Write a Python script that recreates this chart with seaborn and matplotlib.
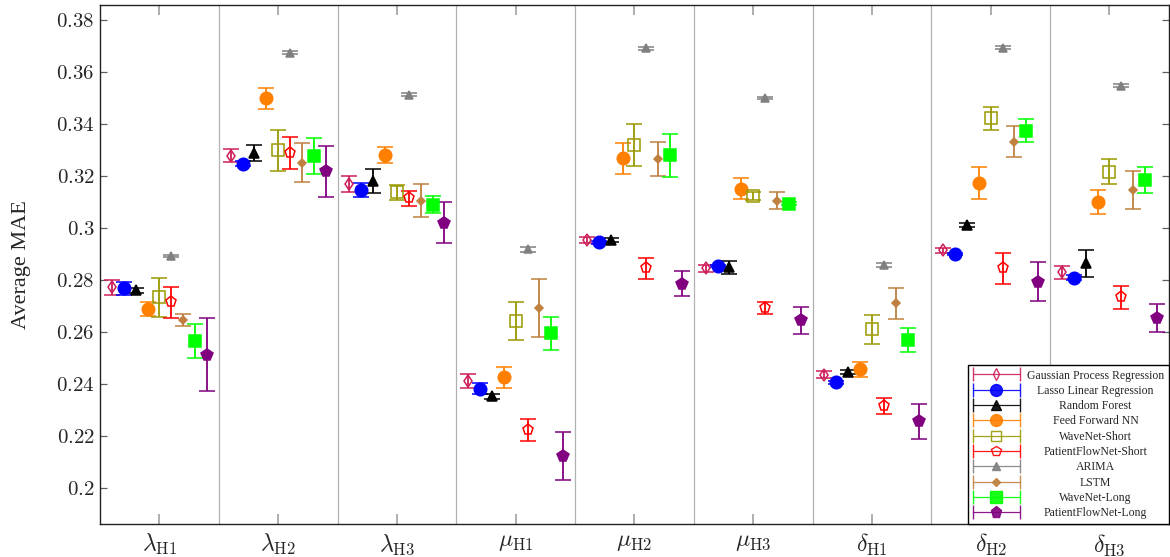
import numpy as np
import pandas as pd
import matplotlib
matplotlib.use("Agg")
import matplotlib.pyplot as plt
import seaborn as sns
from matplotlib.container import ErrorbarContainer
from matplotlib.legend_handler import HandlerErrorbar

"""Data: average MAE and error per target, one list per method"""

targets = [r"$\lambda_{\mathrm{H1}}$", r"$\lambda_{\mathrm{H2}}$", r"$\lambda_{\mathrm{H3}}$",
           r"$\mu_{\mathrm{H1}}$", r"$\mu_{\mathrm{H2}}$", r"$\mu_{\mathrm{H3}}$",
           r"$\delta_{\mathrm{H1}}$", r"$\delta_{\mathrm{H2}}$", r"$\delta_{\mathrm{H3}}$"]

methods = ["Gaussian Process Regression", "Lasso Linear Regression", "Random Forest",
           "Feed Forward NN", "WaveNet-Short", "PatientFlowNet-Short", "ARIMA", "LSTM",
           "WaveNet-Long", "PatientFlowNet-Long"]

gp_mae = [0.2772, 0.3278, 0.3169, 0.2413, 0.2954, 0.2845, 0.2437, 0.2915, 0.2830]
gp_err = [0.0030, 0.0025, 0.0032, 0.0027, 0.0010, 0.0012, 0.0013, 0.0010, 0.0025]
lasso_mae = [0.2768, 0.3247, 0.3148, 0.2383, 0.2945, 0.2854, 0.2407, 0.2901, 0.2809]
lasso_err = [0.0025, 0.0010, 0.0027, 0.0020, 0.0005, 0.0005, 0.0005, 0.0005, 0.0010]
rf_mae = [0.2761, 0.3288, 0.3180, 0.2353, 0.2954, 0.2849, 0.2448, 0.3013, 0.2865]
rf_err = [0.0010, 0.0030, 0.0046, 0.0010, 0.0008, 0.0025, 0.0008, 0.0008, 0.0052]
ffnn_mae = [0.2690, 0.3500, 0.3282, 0.2427, 0.3269, 0.3151, 0.2457, 0.3173, 0.3100]
ffnn_err = [0.0027, 0.0040, 0.0030, 0.0040, 0.0060, 0.0040, 0.0030, 0.0062, 0.0045]
wns_mae = [0.2735, 0.3299, 0.3137, 0.2643, 0.3319, 0.3125, 0.2611, 0.3423, 0.3217]
wns_err = [0.0075, 0.0080, 0.0030, 0.0072, 0.0080, 0.0015, 0.0055, 0.0044, 0.0048]
pfns_mae = [0.2714, 0.3289, 0.3114, 0.2223, 0.2845, 0.2694, 0.2317, 0.2845, 0.2734]
pfns_err = [0.0060, 0.0060, 0.0030, 0.0042, 0.0040, 0.0023, 0.0030, 0.0060, 0.0044]
arima_mae = [0.2893, 0.3675, 0.3513, 0.2919, 0.3691, 0.3501, 0.2857, 0.3694, 0.3548]
arima_err = [0.0005, 0.0005, 0.0005, 0.0010, 0.0005, 0.0005, 0.0008, 0.0005, 0.0005]
lstm_mae = [0.2645, 0.3252, 0.3106, 0.2693, 0.3266, 0.3106, 0.2711, 0.3332, 0.3148]
lstm_err = [0.0023, 0.0075, 0.0064, 0.0110, 0.0067, 0.0033, 0.0060, 0.0060, 0.0073]
wnl_mae = [0.2565, 0.3278, 0.3090, 0.2595, 0.3280, 0.3094, 0.2571, 0.3374, 0.3185]
wnl_err = [0.0065, 0.0070, 0.0032, 0.0063, 0.0083, 0.0005, 0.0046, 0.0044, 0.0050]
pfnl_mae = [0.2513, 0.3218, 0.3021, 0.2123, 0.2786, 0.2645, 0.2257, 0.2793, 0.2653]
pfnl_err = [0.0140, 0.0098, 0.0080, 0.0092, 0.0048, 0.0053, 0.0067, 0.0075, 0.0054]

all_mae = [gp_mae, lasso_mae, rf_mae, ffnn_mae, wns_mae, pfns_mae, arima_mae, lstm_mae, wnl_mae, pfnl_mae]
all_err = [gp_err, lasso_err, rf_err, ffnn_err, wns_err, pfns_err, arima_err, lstm_err, wnl_err, pfnl_err]

rows = []
for m, mae, err in zip(methods, all_mae, all_err):
    for t, v, e in zip(targets, mae, err):
        rows.append({"Method": m, "Target": t, "MAE": v, "Err": e})
data = pd.DataFrame(rows)

"""Styling"""

colors = ["#cc1f5a", "#0000ff", "#000000", "#ff8000", "#999900",
          "#ff0000", "#808080", "#bf8040", "#00ff00", "#800080"]
markers = ["d", "o", "^", "o", "s", "p", "^", "D", "s", "p"]
sizes = [6, 9, 7.5, 9, 8, 8, 6, 4.5, 9, 8.5]
filled = [False, True, True, True, False, False, True, True, True, True]
dodge = [-0.4, -0.3, -0.2, -0.1, 0.0, 0.1, 0.1, 0.2, 0.3, 0.4]

sns.set_theme(style="ticks")
plt.rcParams["font.family"] = ["Liberation Serif", "DejaVu Serif"]
plt.rcParams["mathtext.fontset"] = "cm"

fig, ax = plt.subplots(figsize=(11.7, 5.57), dpi=100)
fig.subplots_adjust(left=0.0855, right=0.999, top=0.991, bottom=0.0592)

xpos = {t: i for i, t in enumerate(targets)}
proxies = []
for k, m in enumerate(methods):
    sub = data[data["Method"] == m]
    x = sub["Target"].map(xpos) + dodge[k]
    face = colors[k] if filled[k] else "none"
    ax.errorbar(x, sub["MAE"], yerr=sub["Err"], fmt=markers[k], color=colors[k],
                mfc=face, mec=colors[k], ms=sizes[k], mew=1.1,
                elinewidth=1.3, capsize=6, capthick=1.3, zorder=3)
    p = ax.errorbar([np.nan], [np.nan], xerr=[1], fmt=markers[k], color=colors[k],
                    mfc=face, mec=colors[k], ms=sizes[k] * 0.95, mew=1.0,
                    elinewidth=0.9, capsize=5, capthick=0.9, alpha=0.9, label=m)
    proxies.append(p)

for b in np.arange(0.5, len(targets) - 0.5, 1):
    ax.axvline(b, color="#b0b0b0", lw=0.9, zorder=1)

ax.set_xlim(-0.5, len(targets) - 0.5)
ax.set_ylim(0.1862, 0.3858)
ax.set_xticks(range(len(targets)))
ax.set_xticklabels(targets, fontsize=17)
yt = np.arange(0.2, 0.381, 0.02)
ax.set_yticks(yt)
ax.set_yticklabels([f"${v:g}$" for v in np.round(yt, 2)], fontsize=15)
ax.tick_params(axis="x", direction="in", length=7, width=1.2, color="#a0a0a0",
               top=True, bottom=True, pad=6)
ax.tick_params(axis="y", direction="in", length=5, width=0.9, color="#606060",
               left=True, right=True, pad=4)
ax.set_ylabel("Average MAE", fontsize=16, labelpad=18)
for s in ax.spines.values():
    s.set_color("#222222")
    s.set_linewidth(1.0)

leg = ax.legend(handles=proxies, labels=methods, loc="lower right", fontsize=8.5,
                frameon=True, fancybox=False, edgecolor="black", framealpha=1,
                borderaxespad=0.0, handlelength=4.0, handletextpad=0.6,
                labelspacing=0.28, borderpad=0.4,
                handler_map={ErrorbarContainer: HandlerErrorbar(xerr_size=2.0)})
leg.get_frame().set_linewidth(1.0)

# center the legend labels like pgfplots does
fig.canvas.draw()
renderer = fig.canvas.get_renderer()
widths = [t.get_window_extent(renderer).width for t in leg.get_texts()]
wmax = max(widths)
for t, w in zip(leg.get_texts(), widths):
    t.set_x((wmax - w) / 2)

plt.savefig("out.png", dpi=100)
